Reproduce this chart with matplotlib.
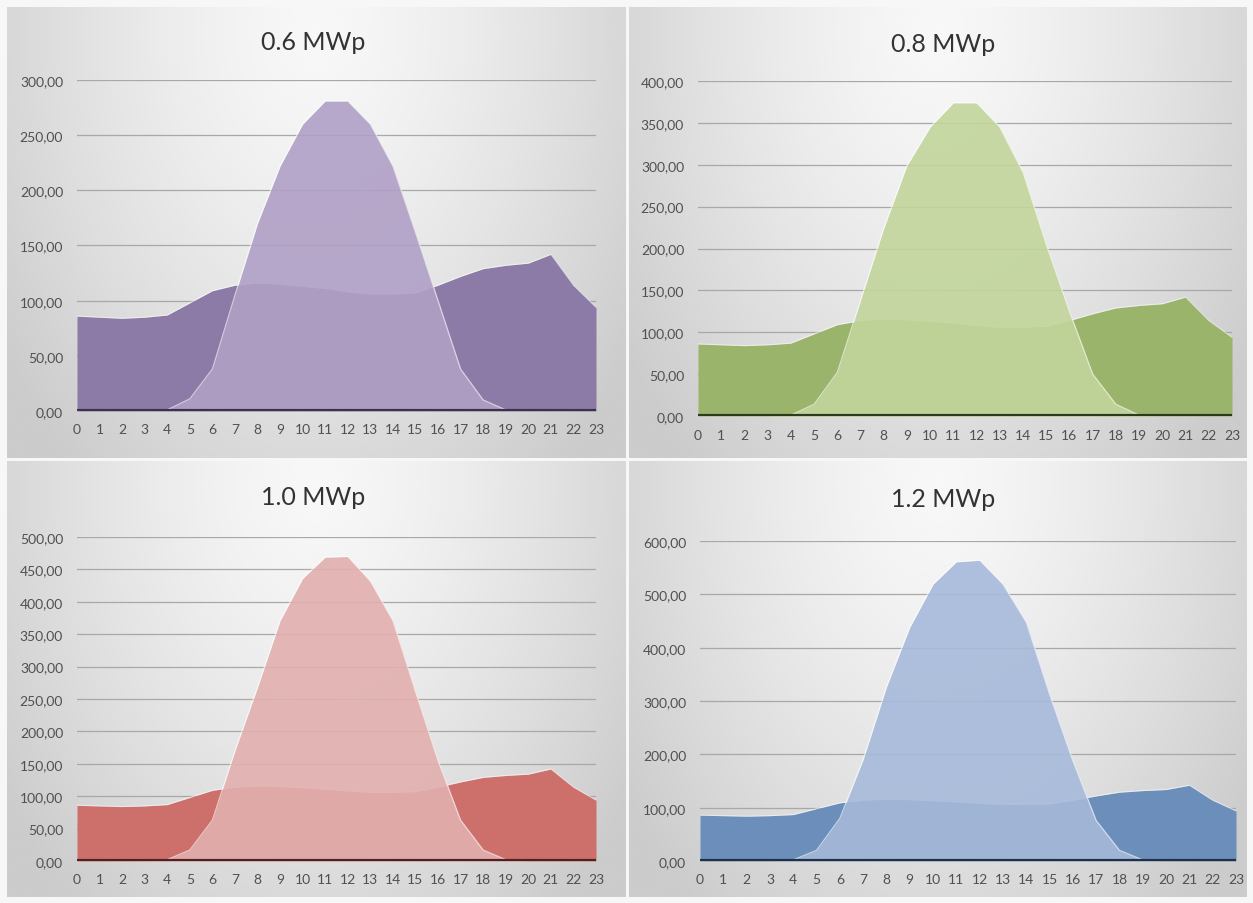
import numpy as np
import matplotlib
matplotlib.use("Agg")
import matplotlib.pyplot as plt
from matplotlib.ticker import FuncFormatter

plt.rcParams['font.family'] = ['Lato', 'DejaVu Sans']

hours = list(range(24))

# hourly consumption (same for every plant size)
load = [86, 85, 84, 85, 87, 98, 109, 114, 116, 115, 113, 111,
        108, 106, 106, 107, 114, 122, 129, 132, 134, 142, 114, 94]

# hourly PV output for each installed capacity
pv_06 = [0, 0, 0, 0, 1, 11, 38, 105, 170, 222, 260, 281,
         281, 260, 222, 162, 100, 38, 10, 1, 0, 0, 0, 0]
pv_08 = [0, 0, 0, 0, 1, 14, 52, 138, 224, 299, 345, 374,
         374, 345, 291, 205, 125, 50, 14, 1, 0, 0, 0, 0]
pv_10 = [0, 0, 0, 0, 2, 17, 63, 170, 268, 371, 436, 469,
         470, 432, 371, 262, 155, 63, 17, 2, 0, 0, 0, 0]
pv_12 = [0, 0, 0, 0, 2, 20, 80, 190, 326, 438, 519, 561,
         564, 519, 448, 313, 188, 76, 20, 2, 0, 0, 0, 0]

titles = ["0.6 MWp", "0.8 MWp", "1.0 MWp", "1.2 MWp"]
y_max = [300, 400, 500, 600]
y_step = [50, 50, 50, 100]

# (load colour, pv colour, baseline colour)
palette = [
    ("#8C7BA6", "#B0A0C6", "#3C3346"),
    ("#9BB46B", "#C2D59C", "#2E3A1E"),
    ("#CD706C", "#E2B0AF", "#4A2424"),
    ("#6B8EBA", "#A6BADA", "#24303F"),
]

W, H = 1253, 904

# card boxes and plot boxes in pixels: (left, top, right, bottom)
cards = [(7, 8, 626, 459), (629, 8, 1247, 459),
         (7, 462, 626, 898), (629, 462, 1247, 898)]
plots = [(77, 81, 596, 412), (698, 82, 1232, 417),
         (77, 538, 596, 862), (700, 542, 1236, 862)]
title_pos = [(313, 42), (943, 44), (313, 498), (943, 500)]


def box(px):
    l, t, r, b = px
    return [l / W, 1 - b / H, (r - l) / W, (b - t) / H]


def card_gradient(n=200):
    yy, xx = np.mgrid[0:1:n * 1j, 0:1:n * 1j]
    d = np.sqrt(((xx - 0.5) / 0.62) ** 2 + ((yy - 0.05) / 1.25) ** 2)
    d = np.clip(d, 0, 1)
    light, dark = 0.97, 0.80
    return light - (light - dark) * d ** 1.4


fmt = FuncFormatter(lambda v, p: f"{v:.2f}".replace(".", ","))

fig = plt.figure(figsize=(W / 100, H / 100), dpi=100)
fig.patch.set_facecolor("#F7F7F7")

series = [pv_06, pv_08, pv_10, pv_12]
grad = card_gradient()

for i in range(4):
    bg = fig.add_axes(box(cards[i]))
    bg.imshow(grad, cmap="gray", vmin=0, vmax=1, aspect="auto",
              extent=[0, 1, 1, 0], interpolation="bicubic")
    bg.set_axis_off()

    ax = fig.add_axes(box(plots[i]))
    ax.patch.set_alpha(0)
    c_load, c_pv, c_base = palette[i]

    ax.fill_between(hours, load, color=c_load, lw=0, zorder=2)
    ax.plot(hours, load, color="white", lw=0.8, alpha=0.5, zorder=3)
    ax.fill_between(hours, series[i], color=c_pv, alpha=0.9, lw=0, zorder=4)
    ax.plot(hours, series[i], color="white", lw=0.9, alpha=0.6, zorder=5)
    ax.axhline(0, color=c_base, lw=3, zorder=6)

    ax.set_xlim(0, 23)
    ax.set_ylim(0, y_max[i])
    ax.set_yticks(np.arange(0, y_max[i] + 1, y_step[i]))
    ax.yaxis.set_major_formatter(fmt)
    ax.set_xticks(hours)
    ax.grid(axis="y", color="#A8A8A8", lw=0.9, zorder=0)
    ax.set_axisbelow(True)
    for s in ax.spines.values():
        s.set_visible(False)
    ax.tick_params(axis="both", length=0, labelsize=10, colors="#505050")
    ax.tick_params(axis="y", pad=10)
    ax.tick_params(axis="x", pad=9)

    tx, ty = title_pos[i]
    fig.text(tx / W, 1 - ty / H, titles[i], ha="center", va="center",
             fontsize=18, color="#333333")

fig.savefig("out.png", dpi=100, facecolor=fig.get_facecolor())
